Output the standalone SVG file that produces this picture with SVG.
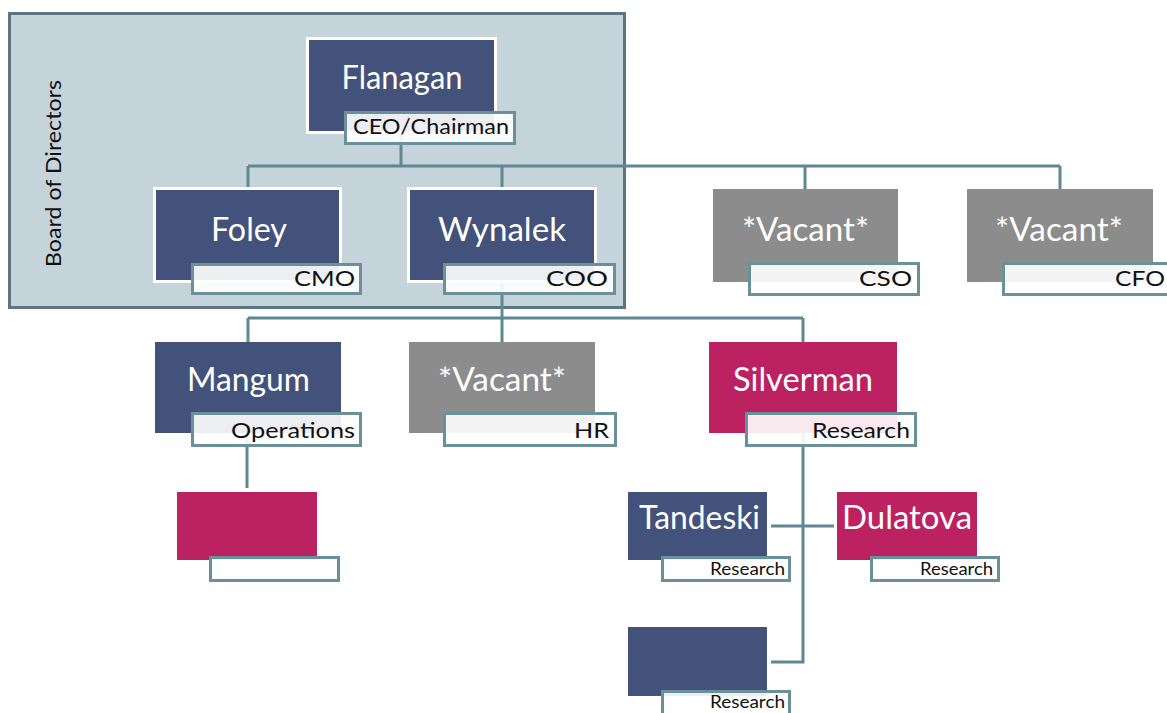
<svg xmlns="http://www.w3.org/2000/svg" width="1167" height="713" viewBox="0 0 1167 713">
<style>
.blue{fill:#42527a}
.pink{fill:#bc2162}
.gray{fill:#8c8c8c}
.wb{stroke:#ffffff;stroke-width:3}
.lab{fill:#ffffff;fill-opacity:0.9;stroke:#6a919a;stroke-width:3}
.name{font-family:Lato,"Open Sans",sans-serif;font-size:32px;fill:#ffffff;text-anchor:middle}
.lt{font-family:Lato,"Open Sans",sans-serif;font-size:22px;fill:#111111;text-anchor:end}
.ls{font-family:Lato,"Open Sans",sans-serif;font-size:17px;fill:#111111;text-anchor:end}
.conn{fill:none;stroke:#5f8893;stroke-width:3}
</style>
<rect width="1167" height="713" fill="#ffffff"/>
<g id="board">
<rect x="9.5" y="13.5" width="615" height="294" fill="#c5d4db" stroke="#5b7680" stroke-width="3"/>
<text transform="translate(61,173.5) rotate(-90)" font-family="Lato,'Open Sans',sans-serif" font-size="22" fill="#111111" text-anchor="middle" textLength="187" lengthAdjust="spacingAndGlyphs">Board of Directors</text>
</g>
<g id="connectors" class="conn">
<path d="M401,134 V166"/>
<path d="M248,166 H1060"/>
<path d="M248,166 V187 M502,166 V187 M805,166 V189 M1060,166 V189"/>
<path d="M502,283 V318"/>
<path d="M248,318 H803"/>
<path d="M248,318 V342 M502,318 V342 M803,318 V342"/>
<path d="M247,433 V488"/>
<path d="M803,433 V662 H771"/>
<path d="M771,526 H834"/>
</g>
<g id="node-flanagan">
<rect class="blue wb" x="307.5" y="38.5" width="188" height="94"/>
<text class="name" x="402" y="89" textLength="121" lengthAdjust="spacingAndGlyphs">Flanagan</text>
<rect class="lab" x="345.5" y="112.5" width="169" height="31"/>
<text class="lt" x="509" y="134" textLength="156" lengthAdjust="spacingAndGlyphs">CEO/Chairman</text>
</g>
<g id="node-foley">
<rect class="blue wb" x="154.5" y="188.5" width="186" height="93"/>
<text class="name" x="249" y="241" textLength="76" lengthAdjust="spacingAndGlyphs">Foley</text>
<rect class="lab" x="192.5" y="264.5" width="168" height="29"/>
<text class="lt" x="355" y="286" textLength="61" lengthAdjust="spacingAndGlyphs">CMO</text>
</g>
<g id="node-wynalek">
<rect class="blue wb" x="408.5" y="188.5" width="187" height="93"/>
<text class="name" x="502" y="241" textLength="128" lengthAdjust="spacingAndGlyphs">Wynalek</text>
<rect class="lab" x="444.5" y="264.5" width="170" height="29"/>
<text class="lt" x="608" y="286" textLength="62" lengthAdjust="spacingAndGlyphs">COO</text>
</g>
<g id="node-cso">
<rect class="gray" x="713" y="189" width="185" height="93"/>
<text class="name" x="805.5" y="241" textLength="127" lengthAdjust="spacingAndGlyphs">*Vacant*</text>
<rect class="lab" x="749.5" y="263.5" width="169" height="31"/>
<text class="lt" x="912" y="286" textLength="53" lengthAdjust="spacingAndGlyphs">CSO</text>
</g>
<g id="node-cfo">
<rect class="gray" x="967" y="189" width="186" height="93"/>
<text class="name" x="1059" y="241" textLength="128" lengthAdjust="spacingAndGlyphs">*Vacant*</text>
<rect class="lab" x="1003.5" y="263.5" width="170" height="31"/>
<text class="lt" x="1165" y="286" textLength="50" lengthAdjust="spacingAndGlyphs">CFO</text>
</g>
<g id="node-mangum">
<rect class="blue" x="155" y="342" width="186" height="91"/>
<text class="name" x="248.5" y="391" textLength="123" lengthAdjust="spacingAndGlyphs">Mangum</text>
<rect class="lab" x="192.5" y="413.5" width="168" height="32"/>
<text class="lt" x="355" y="438" textLength="124" lengthAdjust="spacingAndGlyphs">Operations</text>
</g>
<g id="node-hr">
<rect class="gray" x="409" y="342" width="186" height="91"/>
<text class="name" x="502" y="391" textLength="128" lengthAdjust="spacingAndGlyphs">*Vacant*</text>
<rect class="lab" x="444.5" y="413.5" width="171" height="32"/>
<text class="lt" x="609" y="438" textLength="35" lengthAdjust="spacingAndGlyphs">HR</text>
</g>
<g id="node-silverman">
<rect class="pink" x="709" y="342" width="188" height="91"/>
<text class="name" x="803" y="391" textLength="140" lengthAdjust="spacingAndGlyphs">Silverman</text>
<rect class="lab" x="746.5" y="413.5" width="169" height="32"/>
<text class="lt" x="910" y="438" textLength="98" lengthAdjust="spacingAndGlyphs">Research</text>
</g>
<g id="node-unnamed">
<rect class="pink" x="177" y="492" width="140" height="68"/>
<rect class="lab" x="210.5" y="557.5" width="128" height="23"/>
</g>
<g id="node-tandeski">
<rect class="blue" x="628" y="492" width="139" height="68"/>
<text class="name" x="699.5" y="529" textLength="121" lengthAdjust="spacingAndGlyphs">Tandeski</text>
<rect class="lab" x="662.5" y="557.5" width="127" height="23"/>
<text class="ls" x="785" y="575" textLength="75" lengthAdjust="spacingAndGlyphs">Research</text>
</g>
<g id="node-dulatova">
<rect class="pink" x="837" y="492" width="140" height="68"/>
<text class="name" x="907" y="529" textLength="130" lengthAdjust="spacingAndGlyphs">Dulatova</text>
<rect class="lab" x="871.5" y="557.5" width="127" height="23"/>
<text class="ls" x="993" y="575" textLength="73" lengthAdjust="spacingAndGlyphs">Research</text>
</g>
<g id="node-bottom">
<rect class="blue" x="628" y="627" width="139" height="69"/>
<rect class="lab" x="662.5" y="691.5" width="127" height="28"/>
<text class="ls" x="785" y="708" textLength="75" lengthAdjust="spacingAndGlyphs">Research</text>
</g>
</svg>
